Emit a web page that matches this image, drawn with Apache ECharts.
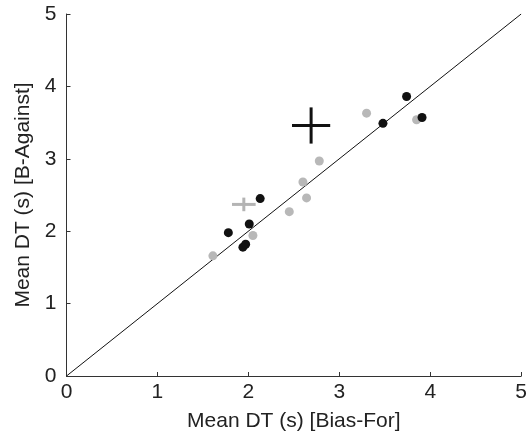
<!DOCTYPE html>
<html><head><meta charset="utf-8">
<script src="https://cdn.jsdelivr.net/npm/echarts@6/dist/echarts.min.js"></script>
<style>html,body{margin:0;padding:0;background:#fff}#c{width:530px;height:437px}</style>
</head><body><div id="c"></div>
<script>
const xTicks = [0, 1, 2, 3, 4, 5];
const yTicks = [0, 1, 2, 3, 4, 5];
const blackX = [3.74, 3.91, 3.48, 2.13, 2.01, 1.78, 1.94, 1.97];
const blackY = [3.86, 3.57, 3.49, 2.45, 2.10, 1.98, 1.78, 1.82];
const grayX = [3.30, 3.85, 2.78, 2.60, 2.64, 2.45, 2.05, 1.61];
const grayY = [3.63, 3.54, 2.97, 2.68, 2.46, 2.27, 1.94, 1.66];
const meanX = [2.69, 1.95];
const meanY = [3.46, 2.37];
const errX = [0.21, 0.13];
const errY = [0.25, 0.094];
const crossColors = ['#111111', '#b4b4b4'];
const diagX = [0, 5];
const diagY = [0, 5];

const chart = echarts.init(document.getElementById('c'), null, {renderer: 'canvas'});
const font = 'Liberation Sans, Arial, sans-serif';
const axisCommon = {
  type: 'value', min: 0, max: 5, interval: 1,
  axisLine: {show: true, lineStyle: {color: '#333', width: 1}},
  axisTick: {show: true, inside: true, length: 4, lineStyle: {color: '#333'}},
  splitLine: {show: false},
  nameLocation: 'middle',
  nameTextStyle: {fontFamily: font, fontSize: 21, color: '#222'},
};
chart.setOption({
  animation: false,
  grid: {left: 66.5, right: 4, top: 14, bottom: 61, containLabel: false},
  xAxis: Object.assign({}, axisCommon, {
    name: 'Mean DT (s) [Bias-For]', nameGap: 35,
    axisLabel: {fontFamily: font, fontSize: 21, color: '#222', margin: 6,
      customValues: xTicks, showMaxLabel: true}
  }),
  yAxis: Object.assign({}, axisCommon, {
    name: 'Mean DT (s) [B-Against]', nameGap: 31,
    axisLabel: {fontFamily: font, fontSize: 21, color: '#222', margin: 10,
      customValues: yTicks}
  }),
  series: [
    {type: 'line', data: diagX.map((x, i) => [x, diagY[i]]), symbol: 'none',
     lineStyle: {color: '#111', width: 1}, z: 1},
    {type: 'scatter', data: grayX.map((x, i) => [x, grayY[i]]), symbolSize: 9,
     itemStyle: {color: '#b8b8b8', opacity: 1}, z: 2},
    {type: 'scatter', data: blackX.map((x, i) => [x, blackY[i]]), symbolSize: 9,
     itemStyle: {color: '#111', opacity: 1}, z: 3},
    {type: 'custom', z: 4,
     data: meanX.map((x, i) => [x, meanY[i], errX[i], errY[i], i]),
     renderItem: function (params, api) {
       const x = api.value(0), y = api.value(1), ex = api.value(2), ey = api.value(3);
       const c = crossColors[api.value(4)];
       const l = api.coord([x - ex, y]), r = api.coord([x + ex, y]);
       const t = api.coord([x, y + ey]), b = api.coord([x, y - ey]);
       return {type: 'group', children: [
         {type: 'line', shape: {x1: l[0], y1: l[1], x2: r[0], y2: r[1]}, style: {stroke: c, lineWidth: 3}},
         {type: 'line', shape: {x1: t[0], y1: t[1], x2: b[0], y2: b[1]}, style: {stroke: c, lineWidth: 3}}
       ]};
     }}
  ]
});
</script></body></html>
